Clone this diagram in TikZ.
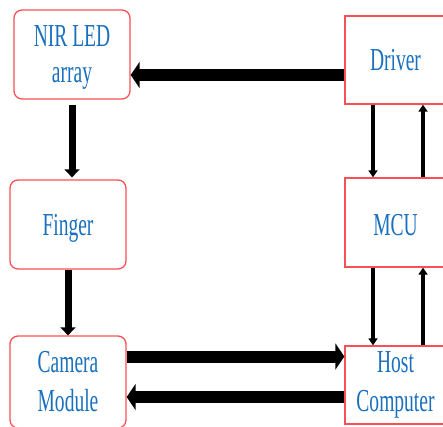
\documentclass[tikz,border=0pt]{standalone}
\usepackage{fontspec}
\usepackage{tikz}
\usetikzlibrary{arrows.meta, positioning, calc}
\newfontfamily\narrowserif[FakeStretch=0.61]{Liberation Serif}
\definecolor{boxred}{RGB}{250,80,85}
\definecolor{textblue}{RGB}{25,112,190}
\tikzset{
  rbox/.style={draw=boxred, line width=1.3pt, rounded corners=8pt, fill=white,
    minimum width=116pt, minimum height=89pt, inner sep=0pt, align=center,
    text=textblue, font={\narrowserif\fontsize{32}{39}\selectfont}},
  sbox/.style={rbox, sharp corners, minimum width=101pt},
  fat/.style={line width=12pt, -{Triangle[width=26pt,length=9pt]}},
  mid/.style={line width=7pt, -{Triangle[width=15pt,length=8pt]}},
  slim/.style={line width=4pt, -{Triangle[width=9pt,length=7pt]}}
}

\begin{document}
\begin{tikzpicture}[x=1pt, y=-1pt]
\clip (0,0) rectangle (443,426);

\node[rbox, font={\narrowserif\fontsize{32}{36}\selectfont}] (nir) at (72,54.5) {\rule{0pt}{27pt}NIR LED\\array};
\node[rbox, text height=28pt] (finger) at (68,224.5) {Finger};
\node[rbox, minimum height=92pt] (camera) at (68,382) {Camera\\Module};
\node[sbox, minimum height=88pt] (driver) at (395.5,60) {Driver};
\node[sbox, text height=26pt] (mcu) at (395.5,222.5) {MCU};
\node[sbox, minimum height=78pt] (host) at (395.5,385) {Host\\Computer};

\draw[fat] ([yshift=-15pt]driver.west) -- ([yshift=-15pt]driver.west -| nir.east);
\draw[fat] ([yshift=28.5pt]host.west -| camera.east) -- ([yshift=28.5pt]host.west);
\draw[fat] ([yshift=-12pt]host.west) -- ([yshift=-12pt]host.west -| camera.east);

\draw[mid, shorten <=5pt, shorten >=2pt] (nir.south) -- (nir.south |- finger.north);
\draw[mid] (finger.south) -- (camera.north);

\foreach \a/\b in {driver/mcu, mcu/host} {
  \draw[slim] ([xshift=-22.5pt]\a.south) -- ([xshift=-22.5pt]\a.south |- \b.north);
  \draw[slim] ([xshift=27.5pt]\a.south |- \b.north) -- ([xshift=27.5pt]\a.south);
}
\end{tikzpicture}
\end{document}
